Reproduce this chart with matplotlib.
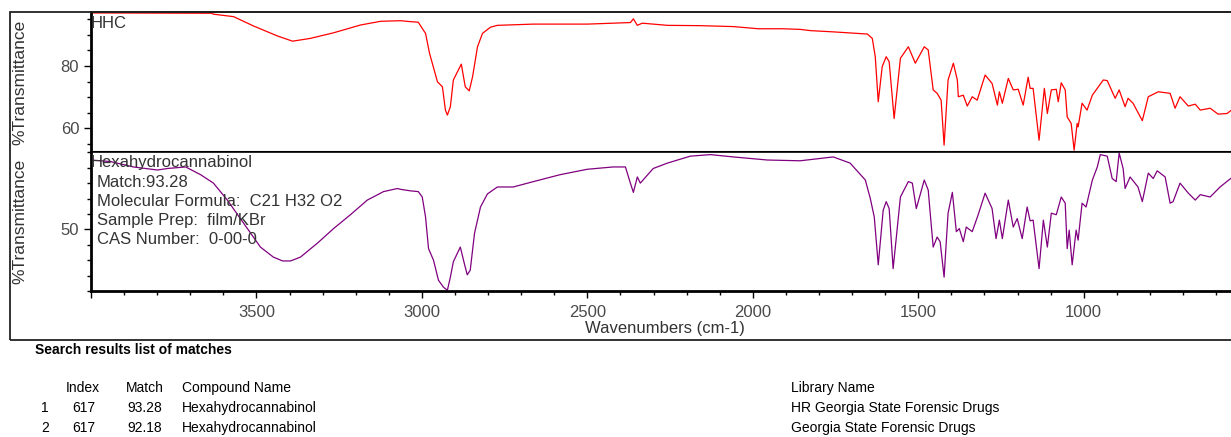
import numpy as np
import matplotlib
matplotlib.use("Agg")
import matplotlib.pyplot as plt
from matplotlib.ticker import MultipleLocator, FixedLocator
from matplotlib.patches import Rectangle

plt.rcParams['font.family'] = ['Liberation Sans', 'DejaVu Sans']

# HHC sample spectrum (wavenumber, %T)
hhc_wn = [4000, 3636, 3630, 3569, 3509, 3437, 3391, 3337, 3267, 3186, 3125, 3065, 3035,
          3011, 2989, 2977, 2953, 2938, 2929, 2923, 2914, 2905, 2881, 2869, 2857, 2847,
          2832, 2817, 2793, 2772, 2663, 2500, 2370, 2361, 2349, 2334, 2258, 2159, 2059,
          1983, 1908, 1857, 1826, 1757, 1654, 1639, 1630, 1621, 1609, 1597, 1588, 1573,
          1554, 1530, 1509, 1482, 1470, 1455, 1443, 1431, 1422, 1410, 1394, 1382, 1379,
          1364, 1352, 1337, 1322, 1298, 1277, 1261, 1255, 1246, 1228, 1213, 1198, 1183,
          1168, 1162, 1153, 1135, 1119, 1110, 1098, 1083, 1077, 1068, 1056, 1050, 1038,
          1029, 1020, 1017, 1005, 990, 974, 941, 929, 905, 893, 875, 866, 851, 823, 805,
          775, 739, 724, 709, 684, 663, 648, 618, 594, 567, 556]
hhc_t = [97.1, 97.0, 96.7, 95.9, 92.9, 89.7, 88.0, 88.9, 90.7, 93.2, 94.4, 94.6, 94.3,
         94.1, 90.5, 84.1, 74.9, 73.3, 65.8, 64.2, 66.9, 75.5, 80.6, 73.3, 72.0, 76.5,
         86.2, 90.5, 92.5, 93.1, 93.5, 93.5, 94.0, 95.2, 93.1, 93.8, 93.1, 93.0, 92.7,
         92.0, 92.0, 91.8, 91.4, 91.0, 90.3, 88.9, 83.0, 68.5, 79.8, 83.0, 81.4, 63.1,
         82.5, 86.2, 80.9, 86.2, 85.2, 72.3, 71.2, 69.0, 54.5, 75.5, 80.9, 75.5, 70.1,
         70.6, 67.1, 70.1, 69.0, 77.1, 74.4, 67.4, 71.7, 68.0, 76.0, 72.3, 72.5, 67.4,
         76.4, 72.8, 72.8, 56.1, 72.8, 64.7, 72.3, 72.5, 68.5, 74.6, 72.3, 63.6, 61.5,
         52.9, 61.5, 60.4, 68.0, 65.8, 70.6, 75.5, 75.3, 69.6, 72.3, 66.9, 69.6, 68.0,
         62.4, 70.1, 71.7, 71.2, 66.4, 70.1, 67.1, 67.7, 65.8, 66.4, 64.5, 64.7, 65.6]

# library match: Hexahydrocannabinol
lib_wn = [4000, 3941, 3872, 3799, 3769, 3714, 3669, 3630, 3588, 3539, 3488, 3449, 3421,
          3397, 3367, 3316, 3267, 3216, 3165, 3116, 3074, 3065, 3035, 3011, 2999, 2989,
          2980, 2965, 2950, 2935, 2923, 2914, 2905, 2884, 2872, 2863, 2854, 2841, 2823,
          2802, 2772, 2724, 2663, 2582, 2500, 2422, 2385, 2370, 2361, 2349, 2340, 2301,
          2258, 2189, 2128, 2059, 1956, 1857, 1796, 1757, 1706, 1660, 1645, 1633, 1621,
          1606, 1597, 1588, 1576, 1554, 1530, 1518, 1506, 1482, 1470, 1455, 1443, 1434,
          1422, 1410, 1397, 1385, 1376, 1364, 1355, 1337, 1319, 1298, 1277, 1265, 1255,
          1246, 1228, 1213, 1201, 1186, 1171, 1162, 1153, 1135, 1122, 1110, 1098, 1083,
          1068, 1056, 1050, 1044, 1035, 1023, 1017, 1005, 993, 974, 959, 950, 929, 914,
          902, 893, 881, 875, 860, 836, 823, 805, 790, 778, 754, 739, 730, 709, 684, 663,
          648, 618, 588, 556]
lib_t = [59.0, 58.8, 58.1, 57.7, 57.9, 58.1, 57.1, 56.0, 53.8, 50.8, 47.7, 46.4, 45.9,
         45.9, 46.4, 48.2, 50.1, 51.9, 53.8, 54.9, 55.3, 55.2, 55.0, 54.9, 54.2, 51.6,
         47.5, 46.0, 43.4, 42.5, 42.1, 43.8, 45.8, 47.7, 45.6, 44.1, 44.7, 49.5, 52.9,
         54.6, 55.5, 55.5, 56.2, 57.1, 57.8, 58.1, 58.1, 56.0, 54.8, 56.8, 56.0, 57.9,
         58.6, 59.5, 59.7, 59.4, 59.0, 58.9, 59.2, 59.4, 58.6, 56.4, 54.0, 51.6, 45.4,
         52.5, 53.6, 52.7, 44.9, 54.2, 56.2, 56.0, 52.7, 56.4, 55.1, 47.7, 49.0, 48.4,
         43.8, 52.1, 54.8, 49.7, 50.1, 48.4, 50.3, 49.7, 51.9, 54.7, 52.7, 48.8, 51.2,
         48.8, 53.8, 50.3, 51.4, 48.8, 52.9, 51.1, 51.2, 44.9, 51.2, 47.7, 52.1, 51.9,
         54.2, 53.4, 47.5, 49.9, 45.4, 49.9, 48.6, 53.4, 52.9, 56.4, 58.1, 59.7, 59.5,
         56.6, 56.2, 59.9, 57.9, 55.3, 56.8, 55.5, 53.6, 57.3, 56.6, 57.6, 56.8, 53.4,
         53.6, 56.0, 54.7, 53.8, 54.5, 54.2, 55.5, 56.6]

info_lines = ["Match:93.28", "Molecular Formula:  C21 H32 O2",
              "Sample Prep:  film/KBr", "CAS Number:  0-00-0"]

tbl_head = ["Index", "Match", "Compound Name", "Library Name"]
tbl_rows = [["1", "617", "93.28", "Hexahydrocannabinol", "HR Georgia State Forensic Drugs"],
            ["2", "617", "92.18", "Hexahydrocannabinol", "Georgia State Forensic Drugs"]]

W, H = 1231, 437
fig = plt.figure(figsize=(W / 100, H / 100), dpi=100)

def fx(px):
    return px / W

def fy(py):
    return 1 - py / H

# outer frame
fig.add_artist(Rectangle((fx(10), fy(340)), 1.2, fy(12) - fy(340), transform=fig.transFigure,
                         fill=False, edgecolor='#222222', linewidth=1.3))

ax1 = fig.add_axes([fx(91), fy(152), 1 - fx(91), fy(12) - fy(152)])
ax2 = fig.add_axes([fx(91), fy(291), 1 - fx(91), fy(152) - fy(291)])

ax1.plot(hhc_wn, hhc_t, color='red', lw=0.9)
ax2.plot(lib_wn, lib_t, color='purple', lw=0.9)

tick_col = '#4a4a4a'
for ax in (ax1, ax2):
    ax.set_xlim(4000, 555)
    for s in ('left', 'bottom'):
        ax.spines[s].set_linewidth(2)
    ax.spines['top'].set_linewidth(1.2)
    ax.spines['right'].set_visible(False)
    ax.tick_params(axis='y', which='both', direction='out', labelsize=12, colors='black',
                   labelcolor=tick_col, width=1)
    ax.tick_params(axis='y', which='major', length=5)
    ax.tick_params(axis='y', which='minor', length=3)

ax1.set_ylim(52.3, 97.4)
ax1.yaxis.set_major_locator(FixedLocator([60, 80]))
ax1.yaxis.set_minor_locator(MultipleLocator(5))
ax1.set_xticks([])
ax1.spines['bottom'].set_linewidth(1.5)

ax2.set_ylim(42.0, 60.04)
ax2.yaxis.set_major_locator(FixedLocator([50]))
ax2.yaxis.set_minor_locator(MultipleLocator(2))
ax2.xaxis.set_major_locator(MultipleLocator(500))
ax2.xaxis.set_minor_locator(MultipleLocator(100))
ax2.tick_params(axis='x', which='both', direction='out', labelsize=12,
                labelcolor=tick_col, width=1)
ax2.tick_params(axis='x', which='major', length=5, pad=5)
ax2.tick_params(axis='x', which='minor', length=3)
ax2.set_xticklabels([f"{int(v)}" if 1000 <= v <= 3500 else "" for v in ax2.get_xticks()])

fig.text(fx(665), fy(328), "Wavenumbers (cm-1)", ha='center', va='center', fontsize=12, color='#333333')
fig.text(fx(20), fy(82), "%Transmittance", rotation=90, ha='center', va='center', fontsize=12.5, color='#333333')
fig.text(fx(20), fy(221), "%Transmittance", rotation=90, ha='center', va='center', fontsize=12.5, color='#333333')

txt_col = '#333333'
fig.text(fx(91), fy(24), "HHC", ha='left', va='center', fontsize=12, color=txt_col)
fig.text(fx(91), fy(163), "Hexahydrocannabinol", ha='left', va='center', fontsize=12, color=txt_col)
for i, line in enumerate(info_lines):
    fig.text(fx(97), fy(182.5 + 19 * i), line, ha='left', va='center', fontsize=12, color=txt_col)

# search results table
fig.text(fx(35), fy(350), "Search results list of matches", ha='left', va='center',
         fontsize=10, fontweight='bold', color='black')
head_x = [66, 126, 182, 791]
for x, h in zip(head_x, tbl_head):
    fig.text(fx(x), fy(388), h, ha='left', va='center', fontsize=10, color='black')
row_x = [41, 72, 127, 182, 791]
for r, row in enumerate(tbl_rows):
    for x, val in zip(row_x, row):
        fig.text(fx(x), fy(408 + 20 * r), val, ha='left', va='center', fontsize=10, color='black')

fig.savefig("out.png", dpi=100)
